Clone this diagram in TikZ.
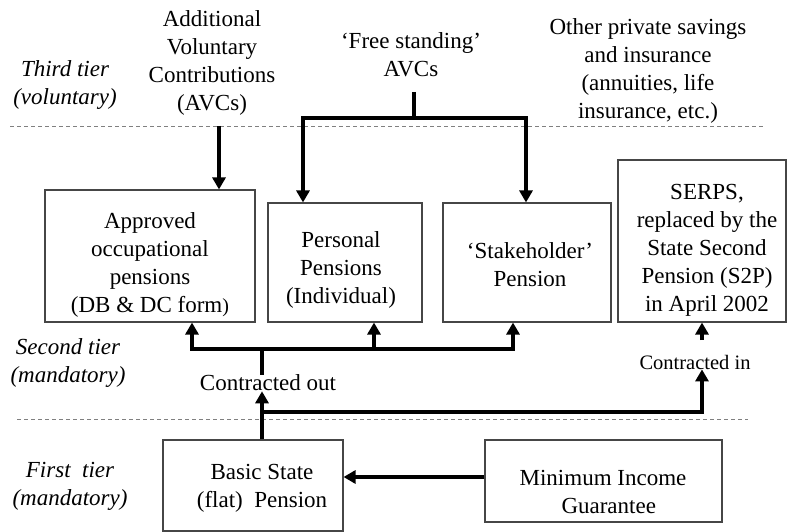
\documentclass[tikz,border=0pt]{standalone}
\usepackage{fontspec}
\setmainfont{Liberation Serif}
\usetikzlibrary{arrows.meta}
\begin{document}
\begin{tikzpicture}[x=1pt,y=-1pt,
  box/.style={draw=gray!55!black,line width=1.1pt,inner sep=0pt},
  txt/.style={inner sep=0pt,align=center,font=\fontsize{23}{28}\selectfont},
  small/.style={inner sep=0pt,align=center,font=\fontsize{20.5}{24}\selectfont},
  tier/.style={inner sep=0pt,align=center,font=\fontsize{23}{28}\selectfont\itshape},
  conn/.style={line width=3.5pt},
  arr/.style={conn,-{Triangle[width=13pt,length=12pt]}},
  sep/.style={gray,line width=0.9pt,dash pattern=on 4pt off 3pt}]
\path[use as bounding box] (0,0) rectangle (788,532);

% separators
\draw[sep] (10,126) -- (763,126);
\draw[sep] (17,419) -- (748,419);

% tier labels
\node[tier] (t3) at (65,85) {Third tier\\(voluntary)};
\node[tier] (t2) at (68,363) {Second tier\\(mandatory)};
\node[tier] (t1) at (70,486) {First\ \ tier\\(mandatory)};

% third tier texts
\node[txt] (avc) at (212,63) {Additional\\Voluntary\\Contributions\\(AVCs)};
\node[txt] (fs) at (411,55) {‘Free standing’\\AVCs};
\node[txt] (other) at (648,71) {Other private savings\\and insurance\\(annuities, life\\insurance, etc.)};

% boxes
\node[box,minimum width=210pt,minimum height=132pt] (appr) at (150,256) {};
\node[box,minimum width=154pt,minimum height=119pt] (pers) at (345,262.5) {};
\node[box,minimum width=168pt,minimum height=119pt] (stake) at (527,262.5) {};
\node[box,minimum width=168pt,minimum height=162pt] (serps) at (702,241) {};
\node[box,minimum width=180pt,minimum height=91pt] (basic) at (253,485.5) {};
\node[box,minimum width=237pt,minimum height=82pt] (mig) at (603.5,481) {};

% box texts
\node[txt] (apprT) at (150,265) {Approved\\occupational\\pensions\\(DB \& DC form{\fontsize{20}{28}\selectfont)}};
\node[txt] (persT) at (341,270) {Personal\\Pensions\\(Individual)};
\node[txt] (stakeT) at (530,265) {‘Stakeholder’\\Pension};
\node[txt] (serpsT) at (707,250) {SERPS,\\replaced by the\\State Second\\Pension (S2P)\\in April 2002};
\node[txt] (basicT) at (262,488) {Basic State\\(flat)\ \ Pension};
\node[txt] (migT) at (603,492) {Minimum Income\\\ \ Guarantee};

% connector labels
\node[txt] (cout) at (268,383) {Contracted out};
\node[small] (cin) at (695,362) {Contracted in};

% AVC arrow
\coordinate (avcS) at (219,126);
\draw[arr] (avcS) -- (avcS |- appr.north);

% free standing AVCs
\coordinate (fsS) at (414,92);
\coordinate (fsJ) at (414,118);
\coordinate (fsL) at (303,118);
\coordinate (fsR) at (526,118);
\draw[conn] (fsS) -- (fsJ);
\draw[arr] (fsJ) -- (fsL) -- (fsL |- pers.north);
\draw[arr] (fsJ) -- (fsR) -- (fsR |- stake.north);

% second tier bus (contracted out)
\coordinate (busC) at (262,349);
\coordinate (busL) at (192,349);
\coordinate (busM) at (374,349);
\coordinate (busR) at (513,349);
\draw[conn] (busC |- cout.north) -- (busC);
\draw[arr] (busC) -- (busL) -- (busL |- appr.south);
\draw[arr] (busC) -- (busR) -- (busR |- stake.south);
\draw[arr] (busM) -- (busM |- pers.south);

% from basic state pension
\draw[arr] (basic.north -| busC) -- (busC |- cout.south);
\coordinate (ciJ) at (262,412);
\coordinate (ciR) at (702,412);
\draw[arr] (ciJ) -- (ciR) -- (ciR |- cin.south);
\coordinate (ciT) at (702,340);
\draw[arr] (ciT) -- (ciT |- serps.south);

% minimum income guarantee
\draw[arr] ([yshift=4pt]mig.west) -- ([yshift=4pt]mig.west -| basic.east);
\end{tikzpicture}
\end{document}
